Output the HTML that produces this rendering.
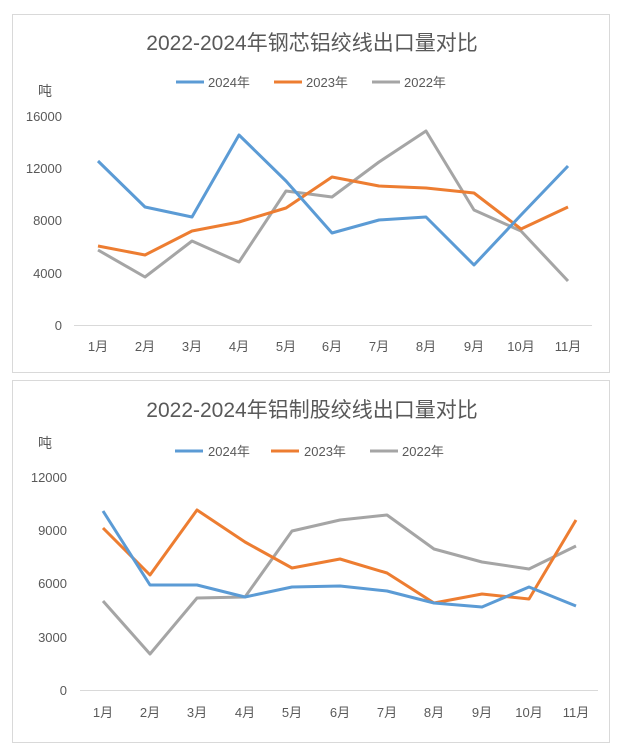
<!DOCTYPE html>
<html><head><meta charset="utf-8"><style>
body{margin:0;background:#fff;}
svg{display:block;font-family:"Liberation Sans","Noto Sans CJK SC",sans-serif;}
</style></head><body>
<svg width="617" height="749" viewBox="0 0 617 749">
<rect x="0" y="0" width="617" height="749" fill="#fff"/>
<rect x="12.5" y="14.5" width="597" height="358" fill="#fff" stroke="#d9d9d9"/>
<text x="312" y="50" text-anchor="middle" font-size="21" fill="#595959">2022-2024年钢芯铝绞线出口量对比</text>
<g font-size="13" fill="#595959">
<line x1="176" y1="82" x2="204" y2="82" stroke="#5b9bd5" stroke-width="3"/><text x="208" y="87">2024年</text>
<line x1="274" y1="82" x2="302" y2="82" stroke="#ed7d31" stroke-width="3"/><text x="306" y="87">2023年</text>
<line x1="372" y1="82" x2="400" y2="82" stroke="#a5a5a5" stroke-width="3"/><text x="404" y="87">2022年</text>
<text x="38" y="96" font-size="14">吨</text>
</g>
<g font-size="13" fill="#595959" text-anchor="end">
<text x="62" y="121">16000</text><text x="62" y="173">12000</text><text x="62" y="225">8000</text><text x="62" y="278">4000</text><text x="62" y="330">0</text>
</g>
<line x1="74" y1="325.5" x2="592" y2="325.5" stroke="#d9d9d9"/>
<g font-size="13" fill="#595959" text-anchor="middle">
<text x="98" y="351">1月</text><text x="145" y="351">2月</text><text x="192" y="351">3月</text><text x="239" y="351">4月</text><text x="286" y="351">5月</text><text x="332" y="351">6月</text><text x="379" y="351">7月</text><text x="426" y="351">8月</text><text x="474" y="351">9月</text><text x="521" y="351">10月</text><text x="568" y="351">11月</text>
</g>
<g fill="none" stroke-width="3" stroke-linejoin="round">
<polyline stroke="#a5a5a5" points="98,250 145,277 192,241 239,262 286,191 332,197 379,162 426,131 474,210 521,231 568,281"/>
<polyline stroke="#ed7d31" points="98,246 145,255 192,231 239,222 286,208 332,177 379,186 426,188 474,193 521,229 568,207"/>
<polyline stroke="#5b9bd5" points="98,161 145,207 192,217 239,135 286,181 332,233 379,220 426,217 474,265 521,215 568,166"/>
</g>
<rect x="12.5" y="380.5" width="597" height="362" fill="#fff" stroke="#d9d9d9"/>
<text x="312" y="417" text-anchor="middle" font-size="21" fill="#595959">2022-2024年铝制股绞线出口量对比</text>
<g font-size="13" fill="#595959">
<line x1="175" y1="451" x2="203" y2="451" stroke="#5b9bd5" stroke-width="3"/><text x="208" y="456">2024年</text>
<line x1="271" y1="451" x2="299" y2="451" stroke="#ed7d31" stroke-width="3"/><text x="304" y="456">2023年</text>
<line x1="370" y1="451" x2="398" y2="451" stroke="#a5a5a5" stroke-width="3"/><text x="402" y="456">2022年</text>
<text x="38" y="448" font-size="14">吨</text>
</g>
<g font-size="13" fill="#595959" text-anchor="end">
<text x="67" y="482">12000</text><text x="67" y="535">9000</text><text x="67" y="588">6000</text><text x="67" y="642">3000</text><text x="67" y="695">0</text>
</g>
<line x1="80" y1="690.5" x2="598" y2="690.5" stroke="#d9d9d9"/>
<g font-size="13" fill="#595959" text-anchor="middle">
<text x="103" y="717">1月</text><text x="150" y="717">2月</text><text x="197" y="717">3月</text><text x="245" y="717">4月</text><text x="292" y="717">5月</text><text x="340" y="717">6月</text><text x="387" y="717">7月</text><text x="434" y="717">8月</text><text x="482" y="717">9月</text><text x="529" y="717">10月</text><text x="576" y="717">11月</text>
</g>
<g fill="none" stroke-width="3" stroke-linejoin="round">
<polyline stroke="#a5a5a5" points="103,601 150,654 197,598 245,597 292,531 340,520 387,515 434,549 482,562 529,569 576,546"/>
<polyline stroke="#ed7d31" points="103,528 150,575 197,510 245,542 292,568 340,559 387,573 434,603 482,594 529,599 576,520"/>
<polyline stroke="#5b9bd5" points="103,511 150,585 197,585 245,597 292,587 340,586 387,591 434,603 482,607 529,587 576,606"/>
</g>
</svg>
</body></html>
